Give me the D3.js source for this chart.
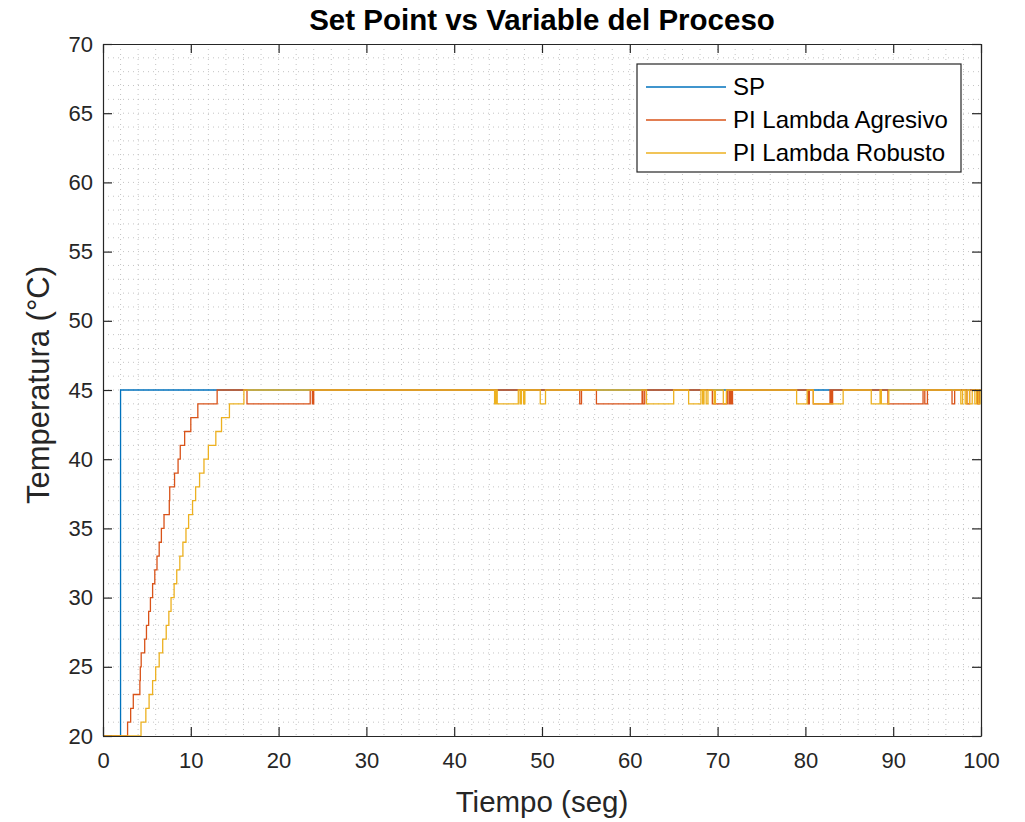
<!DOCTYPE html>
<html>
<head>
<meta charset="utf-8">
<script src="https://cdn.jsdelivr.net/npm/d3@7"></script>
<style>
  body { margin: 0; background: #fff; }
  svg { display: block; font-family: "Liberation Sans", Arial, Helvetica, sans-serif; }
</style>
</head>
<body>
<svg id="chart" width="1025" height="822"></svg>
<script>
// set point
var spTime = [0, 2, 100];
var spTemp = [20, 45, 45];

// PI Lambda Agresivo (step changes: value holds until next time)
var agrTime = [0, 2.8, 3.15, 3.45, 4.2, 4.25, 4.35, 4.75, 4.95, 5.2, 5.4, 5.65, 5.9, 6.15, 6.4, 6.65, 6.95, 7.55, 7.6, 8.15, 8.55, 8.8, 9.3, 10.0, 10.8, 13.0,
  16.4, 23.6, 23.85, 24.0, 54.3, 54.5, 56.2, 61.4, 61.5, 61.7, 69.4, 71.1, 71.3, 71.4, 71.55, 71.7,
  80.3, 80.45, 80.9, 82.8, 82.95, 83.1, 89.4, 93.4, 93.6, 93.9, 96.7, 97.0, 98.4, 98.7, 99.6, 99.8, 100];
var agrTemp = [20, 21, 22, 23, 24, 25, 26, 27, 28, 29, 30, 31, 32, 33, 34, 35, 36, 37, 38, 39, 40, 41, 42, 43, 44, 45,
  44, 45, 44, 45, 44, 45, 44, 45, 44, 45, 44, 45, 44, 45, 44, 45,
  44, 45, 44, 45, 44, 45, 44, 45, 44, 45, 44, 45, 44, 45, 44, 45, 45];

// PI Lambda Robusto
var robTime = [0, 4.33, 4.88, 5.25, 5.65, 6.0, 6.4, 6.8, 7.2, 7.5, 7.75, 8.1, 8.4, 8.75, 9.1, 9.45, 9.75, 10.2, 10.55, 11.0, 11.5, 12.0, 12.85, 13.5, 14.4, 16.05,
  44.6, 44.75, 44.9, 47.3, 47.5, 47.65, 47.9, 48.05, 49.8, 50.4, 61.9, 65.0, 66.7, 68.1, 68.3, 68.45, 68.7, 68.9,
  69.6, 69.75, 70.65, 71.0, 79.0, 80.2, 80.9, 84.3, 87.5, 88.5, 88.65, 89.5,
  97.7, 97.9, 98.2, 98.4, 98.7, 99.0, 99.3, 99.5, 99.7, 99.9, 100];
var robTemp = [20, 21, 22, 23, 24, 25, 26, 27, 28, 29, 30, 31, 32, 33, 34, 35, 36, 37, 38, 39, 40, 41, 42, 43, 44, 45,
  44, 45, 44, 45, 44, 45, 44, 45, 44, 45, 44, 45, 44, 45, 44, 45, 44, 45,
  44, 45, 44, 45, 44, 45, 44, 45, 44, 45, 44, 45,
  44, 45, 44, 45, 44, 45, 44, 45, 44, 45, 45];

var xTickLabels = [0, 10, 20, 30, 40, 50, 60, 70, 80, 90, 100];
var yTickLabels = [20, 25, 30, 35, 40, 45, 50, 55, 60, 65, 70];
var seriesNames = ['SP', 'PI Lambda Agresivo', 'PI Lambda Robusto'];
var seriesColors = ['#0072BD', '#D95319', '#EDB120'];

var margin = {top: 44, right: 44, bottom: 86, left: 103};
var width = 1025 - margin.left - margin.right;
var height = 822 - margin.top - margin.bottom;
var axisColor = '#262626';

var svg = d3.select('#chart');
var g = svg.append('g').attr('transform', 'translate(' + margin.left + ',' + margin.top + ')');

var x = d3.scaleLinear().domain([0, 100]).range([0, width]);
var y = d3.scaleLinear().domain([20, 70]).range([height, 0]);

svg.append('defs').append('clipPath').attr('id', 'plotClip')
  .append('rect').attr('width', width).attr('height', height);

// grid (dotted, minor + major)
var grid = g.append('g').attr('class', 'grid');
grid.selectAll('line.gx')
  .data(d3.range(2, 100, 2))
  .enter().append('line')
  .attr('x1', function(d) { return x(d); })
  .attr('x2', function(d) { return x(d); })
  .attr('y1', 0).attr('y2', height)
  .attr('stroke', '#c4c4c4').attr('stroke-width', 1)
  .attr('stroke-dasharray', '1,4');
grid.selectAll('line.gy')
  .data(d3.range(21, 70, 1))
  .enter().append('line')
  .attr('y1', function(d) { return y(d); })
  .attr('y2', function(d) { return y(d); })
  .attr('x1', 0).attr('x2', width)
  .attr('stroke', '#c4c4c4').attr('stroke-width', 1)
  .attr('stroke-dasharray', '1,4');

// series
function toPoints(ts, vs) {
  return ts.map(function(t, i) { return [t, vs[i]]; });
}
var line = d3.line()
  .x(function(d) { return x(d[0]); })
  .y(function(d) { return y(d[1]); })
  .curve(d3.curveStepAfter);

var series = [toPoints(spTime, spTemp), toPoints(agrTime, agrTemp), toPoints(robTime, robTemp)];
g.append('g').attr('clip-path', 'url(#plotClip)')
  .selectAll('path.series')
  .data(series)
  .enter().append('path')
  .attr('class', 'series')
  .attr('d', line)
  .attr('fill', 'none')
  .attr('stroke', function(d, i) { return seriesColors[i]; })
  .attr('stroke-width', 1.3);

// axes (ticks inside, box on)
function styleAxis(sel) {
  sel.selectAll('path').attr('stroke', axisColor).attr('stroke-width', 1.2);
  sel.selectAll('line').attr('stroke', axisColor).attr('stroke-width', 1.2);
  sel.selectAll('text').attr('fill', axisColor).style('font-size', '22px');
}
var xAxis = g.append('g').attr('transform', 'translate(0,' + height + ')')
  .call(d3.axisBottom(x).tickValues(xTickLabels).tickSizeInner(-9).tickSizeOuter(0).tickPadding(16));
xAxis.call(styleAxis);
xAxis.selectAll('text').attr('dy', '0.71em');

var yAxis = g.append('g')
  .call(d3.axisLeft(y).tickValues(yTickLabels).tickSizeInner(-9).tickSizeOuter(0).tickPadding(10));
yAxis.call(styleAxis);

var xTop = g.append('g')
  .call(d3.axisTop(x).tickValues(xTickLabels).tickSizeInner(-9).tickSizeOuter(0).tickFormat(''));
xTop.call(styleAxis);
var yRight = g.append('g').attr('transform', 'translate(' + width + ',0)')
  .call(d3.axisRight(y).tickValues(yTickLabels).tickSizeInner(-9).tickSizeOuter(0).tickFormat(''));
yRight.call(styleAxis);

// labels
svg.append('text')
  .attr('x', margin.left + width / 2).attr('y', 30)
  .attr('text-anchor', 'middle')
  .style('font-size', '29.5px').style('font-weight', 'bold')
  .attr('fill', '#000')
  .text('Set Point vs Variable del Proceso');
svg.append('text')
  .attr('x', margin.left + width / 2).attr('y', 812)
  .attr('text-anchor', 'middle')
  .style('font-size', '29.5px')
  .attr('fill', axisColor)
  .text('Tiempo (seg)');
svg.append('text')
  .attr('transform', 'translate(49,' + (margin.top + height / 2 - 5) + ') rotate(-90)')
  .attr('text-anchor', 'middle')
  .style('font-size', '31px')
  .attr('fill', axisColor)
  .text('Temperatura (°C)');

// legend
var legend = g.append('g').attr('transform', 'translate(' + (637 - margin.left) + ',' + (64 - margin.top) + ')');
legend.append('rect')
  .attr('width', 324).attr('height', 108)
  .attr('fill', '#fff').attr('stroke', axisColor).attr('stroke-width', 1.2);
var items = legend.selectAll('g.item')
  .data(seriesNames)
  .enter().append('g')
  .attr('transform', function(d, i) { return 'translate(0,' + (23 + i * 33) + ')'; });
items.append('line')
  .attr('x1', 9).attr('x2', 89)
  .attr('stroke', function(d, i) { return seriesColors[i]; })
  .attr('stroke-width', 1.3);
items.append('text')
  .attr('x', 96).attr('dy', '0.35em')
  .style('font-size', '24px')
  .attr('fill', '#000')
  .text(function(d) { return d; });
</script>
</body>
</html>
